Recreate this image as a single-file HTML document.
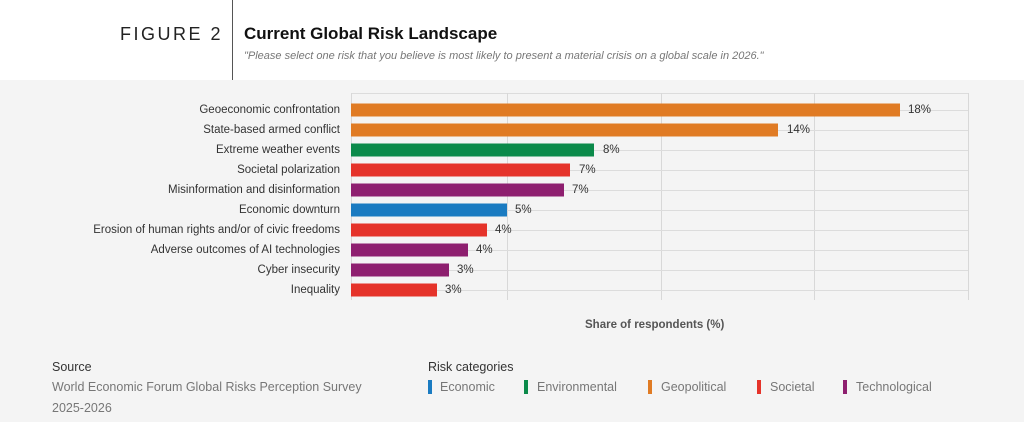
<!DOCTYPE html>
<html><head><style>
body{margin:0;width:1024px;height:422px;overflow:hidden;font-family:"Liberation Sans",sans-serif;background:#f4f4f4;position:relative}
.top{position:absolute;left:0;top:0;width:1024px;height:80px;background:#fff}
.a{position:absolute;white-space:nowrap}
.lab{position:absolute;right:684px;font-size:11.5px;color:#333;transform:translateY(-50%)}
.bar{position:absolute;left:351px;height:13px;transform:translateY(-50%)}
.val{position:absolute;font-size:11.5px;color:#333;transform:translateY(-50%)}
.vg{position:absolute;top:93px;height:207px;width:1px;background:#d8d8d8}
.hg{position:absolute;left:351px;width:617px;height:1px;background:#dcdcdc}
.lg{position:absolute;top:380px;width:4px;height:14px}
.lt{position:absolute;top:380px;font-size:12.5px;color:#777}
</style></head><body>
<div class="top"></div>
<div class="a" style="left:232px;top:0;width:1px;height:80px;background:#555"></div>
<div class="a" style="left:120px;top:24px;font-size:18px;letter-spacing:2.5px;color:#222">FIGURE 2</div>
<div class="a" style="left:244px;top:24px;font-size:17px;font-weight:bold;color:#111">Current Global Risk Landscape</div>
<div class="a" style="left:244px;top:50px;font-size:11px;font-style:italic;color:#777">"Please select one risk that you believe is most likely to present a material crisis on a global scale in 2026."</div>

<div class="hg" style="top:93px"></div>
<div class="vg" style="left:351px"></div><div class="vg" style="left:507px"></div><div class="vg" style="left:661px"></div><div class="vg" style="left:814px"></div><div class="vg" style="left:968px"></div>
<div class="hg" style="top:110px"></div><div class="hg" style="top:130px"></div><div class="hg" style="top:150px"></div><div class="hg" style="top:170px"></div><div class="hg" style="top:190px"></div><div class="hg" style="top:210px"></div><div class="hg" style="top:230px"></div><div class="hg" style="top:250px"></div><div class="hg" style="top:270px"></div><div class="hg" style="top:290px"></div>

<div class="lab" style="top:110px">Geoeconomic confrontation</div><div class="bar" style="top:110px;width:549px;background:#e07b24"></div><div class="val" style="top:110px;left:908px">18%</div>
<div class="lab" style="top:130px">State-based armed conflict</div><div class="bar" style="top:130px;width:427px;background:#e07b24"></div><div class="val" style="top:130px;left:787px">14%</div>
<div class="lab" style="top:150px">Extreme weather events</div><div class="bar" style="top:150px;width:243px;background:#0b8a4a"></div><div class="val" style="top:150px;left:603px">8%</div>
<div class="lab" style="top:170px">Societal polarization</div><div class="bar" style="top:170px;width:219px;background:#e5332a"></div><div class="val" style="top:170px;left:579px">7%</div>
<div class="lab" style="top:190px">Misinformation and disinformation</div><div class="bar" style="top:190px;width:213px;background:#8e1f6f"></div><div class="val" style="top:190px;left:572px">7%</div>
<div class="lab" style="top:210px">Economic downturn</div><div class="bar" style="top:210px;width:156px;background:#1a7bc1"></div><div class="val" style="top:210px;left:515px">5%</div>
<div class="lab" style="top:230px">Erosion of human rights and/or of civic freedoms</div><div class="bar" style="top:230px;width:136px;background:#e5332a"></div><div class="val" style="top:230px;left:495px">4%</div>
<div class="lab" style="top:250px">Adverse outcomes of AI technologies</div><div class="bar" style="top:250px;width:117px;background:#8e1f6f"></div><div class="val" style="top:250px;left:476px">4%</div>
<div class="lab" style="top:270px">Cyber insecurity</div><div class="bar" style="top:270px;width:98px;background:#8e1f6f"></div><div class="val" style="top:270px;left:457px">3%</div>
<div class="lab" style="top:290px">Inequality</div><div class="bar" style="top:290px;width:86px;background:#e5332a"></div><div class="val" style="top:290px;left:445px">3%</div>

<div class="a" style="left:585px;top:319px;font-size:11.5px;font-weight:bold;color:#555">Share of respondents (%)</div>

<div class="a" style="left:52px;top:360px;font-size:12.5px;color:#333">Source</div>
<div class="a" style="left:52px;top:380px;font-size:12.5px;color:#777">World Economic Forum Global Risks Perception Survey</div>
<div class="a" style="left:52px;top:401px;font-size:12.5px;color:#777">2025-2026</div>
<div class="a" style="left:428px;top:360px;font-size:12.5px;color:#333">Risk categories</div>
<div class="lg" style="left:428px;background:#1a7bc1"></div><div class="lt" style="left:440px">Economic</div>
<div class="lg" style="left:524px;background:#0b8a4a"></div><div class="lt" style="left:537px">Environmental</div>
<div class="lg" style="left:648px;background:#e07b24"></div><div class="lt" style="left:661px">Geopolitical</div>
<div class="lg" style="left:757px;background:#e5332a"></div><div class="lt" style="left:770px">Societal</div>
<div class="lg" style="left:843px;background:#8e1f6f"></div><div class="lt" style="left:856px">Technological</div>
</body></html>
